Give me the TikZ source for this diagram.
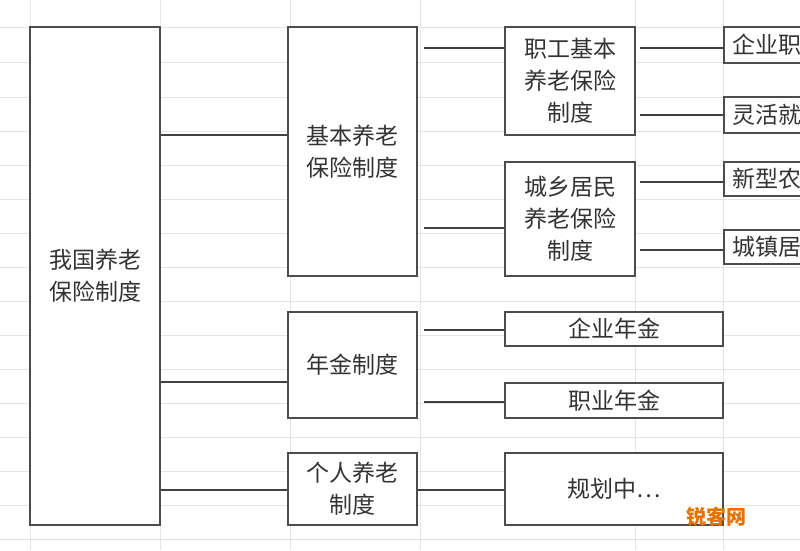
\documentclass[tikz,border=0pt]{standalone}
\usepackage{fontspec}
\newfontfamily\cjk{Noto Sans CJK SC}
\begin{document}
\begin{tikzpicture}[x=1pt,y=-1pt,
  bx/.style={draw=black!70,line width=1.6pt,fill=white,inner sep=0pt,font=\cjk\fontsize{23}{32}\selectfont,align=center,text=black!80},
  rb/.style={bx,minimum width=120,anchor=west,text width=110,align=left},
  ln/.style={draw=black!75,line width=1.3pt},
  grid/.style={draw=black!10,line width=1pt}]
\useasboundingbox (0,0) rectangle (800,550);
\clip (0,0) rectangle (800,550);
\fill[white] (0,0) rectangle (800,550);
\foreach \x in {30,160,290,420,635,723} \draw[grid] (\x,0) -- (\x,550);
\foreach \y in {27,62,97,131,165,199,233,267,301,335,369,403,437,471,505,539} \draw[grid] (0,\y) -- (800,\y);
\node[bx,minimum width=130,minimum height=498] (root) at (95,276) {我国养老\\保险制度};
\node[bx,minimum width=129,minimum height=249] (jb) at (352.5,151.5) {基本养老\\保险制度};
\node[bx,minimum width=129,minimum height=106] (nj) at (352.5,365) {年金制度};
\node[bx,minimum width=129,minimum height=72] (gr) at (352.5,489) {个人养老\\制度};
\node[bx,minimum width=130,minimum height=108] (zg) at (570,81) {职工基本\\养老保险\\制度};
\node[bx,minimum width=130,minimum height=114] (cx) at (570,219) {城乡居民\\养老保险\\制度};
\node[bx,minimum width=218,minimum height=34] (qy) at (614,329) {企业年金};
\node[bx,minimum width=218,minimum height=35] (zy) at (614,400.5) {职业年金};
\node[bx,minimum width=218,minimum height=72] (gh) at (614,489) {规划中…};
\node[rb,minimum height=36] (a1) at (723,45) {\,企业职};
\node[rb,minimum height=36] (a2) at (723,115) {\,灵活就};
\node[rb,minimum height=34] (a3) at (723,179) {\,新型农};
\node[rb,minimum height=34] (a4) at (723,247) {\,城镇居};
\draw[ln] (root.east |- 0,135) -- (jb.west |- 0,135);
\draw[ln] (root.east |- 0,382) -- (nj.west |- 0,382);
\draw[ln] (root.east |- 0,490) -- (gr.west |- 0,490);
\draw[ln] (424,48) -- (zg.west |- 0,48);
\draw[ln] (424,228) -- (cx.west |- 0,228);
\draw[ln] (424,330) -- (qy.west |- 0,330);
\draw[ln] (424,402) -- (zy.west |- 0,402);
\draw[ln] (gr.east |- 0,490) -- (gh.west |- 0,490);
\draw[ln] (640,48) -- (a1.west |- 0,48);
\draw[ln] (640,115) -- (a2.west);
\draw[ln] (640,182) -- (a3.west |- 0,182);
\draw[ln] (640,250) -- (a4.west |- 0,250);
\node[font=\cjk\bfseries\fontsize{20}{22}\selectfont,text=orange!90!black,inner sep=0pt] (wm) at (716,517) {锐客网};
\end{tikzpicture}
\end{document}
